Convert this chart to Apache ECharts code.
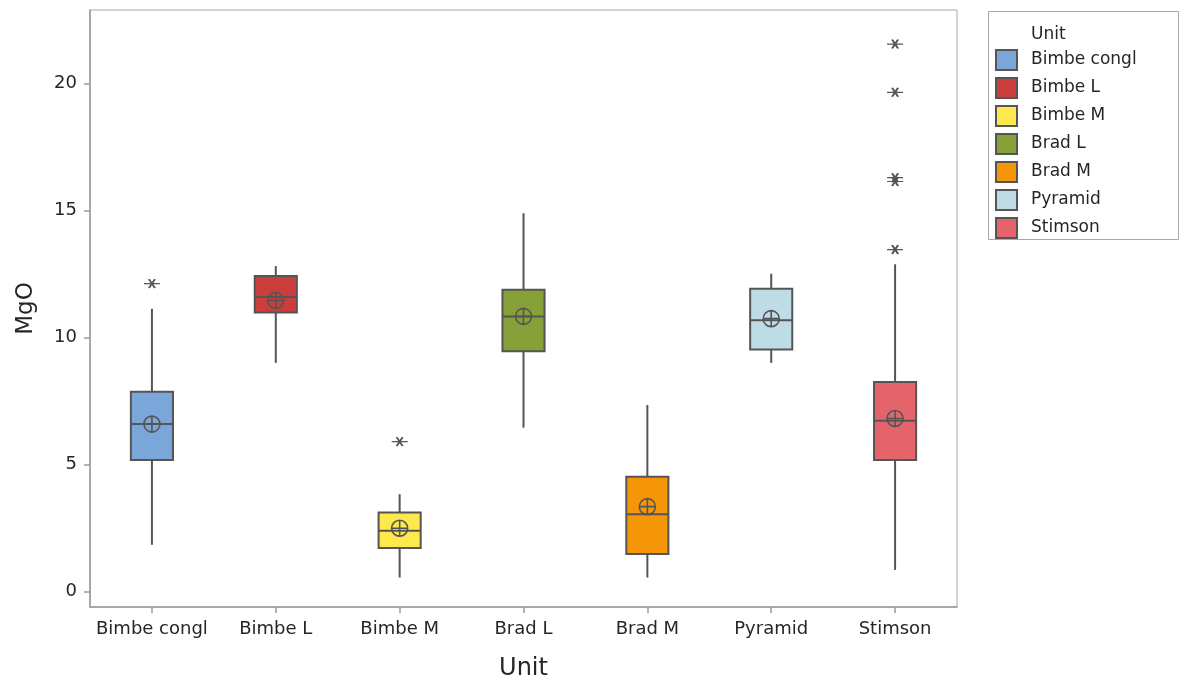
<!DOCTYPE html>
<html>
<head>
<meta charset="utf-8">
<script src="https://cdn.jsdelivr.net/npm/echarts@6/dist/echarts.min.js"></script>
<style>html,body{margin:0;padding:0;background:#fff}#c{width:1180px;height:687px}</style>
</head>
<body>
<div id="c"></div>
<script>
const categories = ['Bimbe congl', 'Bimbe L', 'Bimbe M', 'Brad L', 'Brad M', 'Pyramid', 'Stimson'];
const colors = ['#7aa6da', '#cc3e3e', '#fde94c', '#87a038', '#f49607', '#bddce6', '#e5646b'];
const whiskerLow = [1.85, 9.01, 0.56, 6.46, 0.56, 9.01, 0.86];
const q1 = [5.19, 10.99, 1.72, 9.47, 1.49, 9.54, 5.19];
const median = [6.60, 11.60, 2.40, 10.84, 3.05, 10.69, 6.73];
const q3 = [7.87, 12.43, 3.12, 11.89, 4.53, 11.93, 8.26];
const whiskerHigh = [11.14, 12.82, 3.84, 14.90, 7.35, 12.52, 12.89];
const means = [6.60, 11.47, 2.50, 10.84, 3.35, 10.75, 6.82];
const outlierUnits = ['Bimbe congl', 'Bimbe M', 'Stimson', 'Stimson', 'Stimson', 'Stimson', 'Stimson'];
const outlierValues = [12.13, 5.91, 21.56, 19.66, 16.30, 16.15, 13.47];
const yTicks = [0, 5, 10, 15, 20];

const FONT = 'DejaVu Sans';
const TXT = '#262626';
const EDGE = '#555555';

const boxData = categories.map((c, i) => [i, whiskerLow[i], q1[i], median[i], q3[i], whiskerHigh[i]]);
const meanData = categories.map((c, i) => [c, means[i]]);
const outlierData = outlierUnits.map((u, i) => [u, outlierValues[i]]);

const meanSymbol = 'path://M0,-10A10,10,0,1,1,0,10A10,10,0,1,1,0,-10ZM-10,0L10,0M0,-10L0,10';
const starSymbol = 'path://M-8,0L8,0M-3,-4L3,4M3,-4L-3,4';

const legendSeries = categories.map((c, i) => ({
  name: c, type: 'scatter', data: [],
  itemStyle: { color: colors[i], borderColor: EDGE, borderWidth: 1, opacity: 1 }
}));

const option = {
  animation: false,
  backgroundColor: '#fff',
  textStyle: { fontFamily: FONT },
  grid: { left: 90, right: 223, top: 10, bottom: 80, show: true, borderColor: '#a8a8a8', borderWidth: 1, backgroundColor: 'transparent' },
  xAxis: {
    type: 'category', data: categories, boundaryGap: true,
    name: 'Unit', nameLocation: 'middle', nameGap: 50,
    nameTextStyle: { fontSize: 24, color: TXT, fontFamily: FONT },
    axisLine: { show: true, onZero: false, lineStyle: { color: '#9a9a9a', width: 1.5 } },
    axisTick: { show: true, interval: 0, alignWithLabel: true, length: 6, lineStyle: { color: '#9a9a9a', width: 1.5 } },
    axisLabel: { interval: 0, hideOverlap: false, fontSize: 18, color: TXT, margin: 13, fontFamily: FONT },
    splitLine: { show: false }
  },
  yAxis: {
    type: 'value', min: -0.6, max: 22.9,
    name: 'MgO', nameLocation: 'middle', nameGap: 52, nameRotate: 90,
    nameTextStyle: { fontSize: 23, color: TXT, fontFamily: FONT },
    axisLine: { show: true, onZero: false, lineStyle: { color: '#9a9a9a', width: 1.5 } },
    axisTick: { show: true, length: 6, customValues: yTicks, lineStyle: { color: '#9a9a9a', width: 1.5 } },
    axisLabel: { fontSize: 18, color: TXT, margin: 13, customValues: yTicks, fontFamily: FONT },
    splitLine: { show: false }
  },
  legend: {
    orient: 'vertical', left: 995, top: 49, padding: 0,
    itemWidth: 21, itemHeight: 20, itemGap: 6, icon: 'rect',
    data: categories,
    textStyle: { fontSize: 17, lineHeight: 20, color: TXT, padding: [0, 0, 0, 9], fontFamily: FONT }
  },
  graphic: [
    { type: 'rect', left: 986, top: 9, shape: { width: 190, height: 228 }, style: { fill: 'none', stroke: '#a8a8a8', lineWidth: 1 }, z: 0 },
    { type: 'text', left: 1031, top: 26, style: { text: 'Unit', fontSize: 17, fill: TXT, fontFamily: FONT } }
  ],
  series: [
    {
      type: 'custom',
      data: boxData,
      encode: { x: 0, y: [1, 2, 3, 4, 5] },
      renderItem: function (params, api) {
        const idx = api.value(0);
        const w = api.size([1, 0])[0] * 0.34;
        const pLow = api.coord([idx, api.value(1)]);
        const pQ1 = api.coord([idx, api.value(2)]);
        const pMed = api.coord([idx, api.value(3)]);
        const pQ3 = api.coord([idx, api.value(4)]);
        const pHigh = api.coord([idx, api.value(5)]);
        const x = pQ1[0];
        const ls = { stroke: EDGE, lineWidth: 2 };
        return {
          type: 'group',
          children: [
            { type: 'line', shape: { x1: x, y1: pHigh[1], x2: x, y2: pQ3[1] }, style: ls },
            { type: 'line', shape: { x1: x, y1: pQ1[1], x2: x, y2: pLow[1] }, style: ls },
            { type: 'rect', shape: { x: x - w / 2, y: pQ3[1], width: w, height: pQ1[1] - pQ3[1] },
              style: { fill: colors[idx], stroke: EDGE, lineWidth: 2 } },
            { type: 'line', shape: { x1: x - w / 2, y1: pMed[1], x2: x + w / 2, y2: pMed[1] }, style: ls }
          ]
        };
      },
      z: 2
    },
    {
      type: 'scatter', data: meanData, symbol: meanSymbol, symbolSize: 16,
      itemStyle: { color: 'none', borderColor: EDGE, borderWidth: 1.6, opacity: 1 },
      z: 5
    },
    {
      type: 'scatter', data: outlierData, symbol: starSymbol, symbolSize: [16, 9],
      itemStyle: { color: 'none', borderColor: EDGE, borderWidth: 1.6, opacity: 1 },
      z: 5
    }
  ].concat(legendSeries)
};

const chart = echarts.init(document.getElementById('c'), null, { renderer: 'canvas' });
chart.setOption(option);
</script>
</body>
</html>
